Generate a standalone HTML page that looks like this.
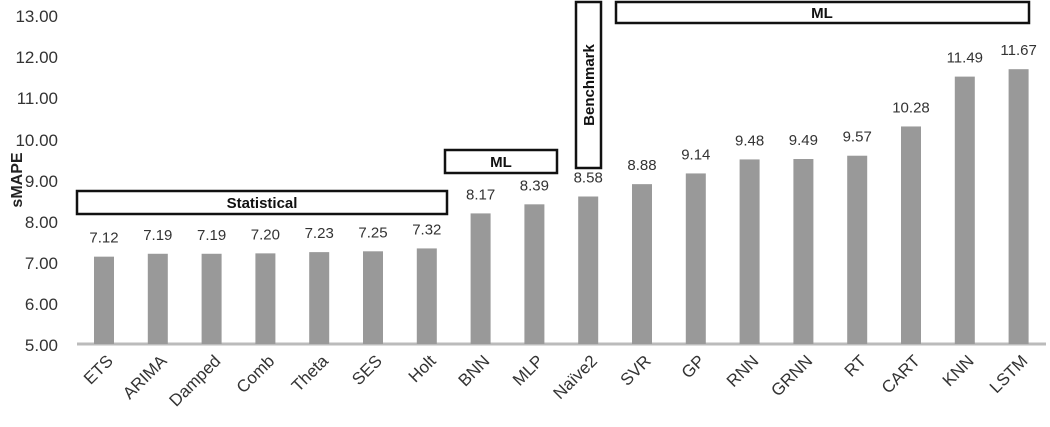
<!DOCTYPE html>
<html><head><style>body{margin:0;background:#fff}</style></head><body>
<svg width="1050" height="422" xmlns="http://www.w3.org/2000/svg" font-family="Liberation Sans, DejaVu Sans, sans-serif">
<rect width="1050" height="422" fill="#fff"/>
<g font-size="17" fill="#333" text-anchor="end">
<text x="58" y="22">13.00</text><text x="58" y="63">12.00</text><text x="58" y="104">11.00</text><text x="58" y="146">10.00</text><text x="58" y="187">9.00</text><text x="58" y="228">8.00</text><text x="58" y="269">7.00</text><text x="58" y="310">6.00</text><text x="58" y="351">5.00</text>
</g>
<text transform="translate(22,180) rotate(-90)" font-size="16" font-weight="bold" text-anchor="middle" fill="#222">sMAPE</text>
<line x1="77" y1="344" x2="1046" y2="344" stroke="#bbb" stroke-width="3"/>
<g id="bars" fill="#999"></g>
<g id="vals" font-size="15" fill="#333" text-anchor="middle"></g>
<g id="cats" font-size="17" fill="#333" text-anchor="end"></g>
<g fill="#fff" stroke="#111" stroke-width="2.5">
<rect x="77" y="191" width="370" height="23"/>
<rect x="445" y="150" width="112" height="23"/>
<rect x="576" y="2" width="25" height="166"/>
<rect x="616" y="2" width="413" height="21"/>
</g>
<g font-weight="bold" font-size="15" fill="#111" text-anchor="middle">
<text x="262" y="208">Statistical</text>
<text x="501" y="167">ML</text>
<text x="822" y="18">ML</text>
<text transform="translate(594,85) rotate(-90)">Benchmark</text>
</g>
<script>
var d=[["ETS",7.12],["ARIMA",7.19],["Damped",7.19],["Comb",7.20],["Theta",7.23],["SES",7.25],["Holt",7.32],["BNN",8.17],["MLP",8.39],["Naïve2",8.58],["SVR",8.88],["GP",9.14],["RNN",9.48],["GRNN",9.49],["RT",9.57],["CART",10.28],["KNN",11.49],["LSTM",11.67]];
var ns="http://www.w3.org/2000/svg";
function el(p,t,a,txt){var e=document.createElementNS(ns,t);for(var k in a)e.setAttribute(k,a[k]);if(txt)e.textContent=txt;document.getElementById(p).appendChild(e);}
d.forEach(function(v,i){var cx=104+i*53.8;var y=344-(v[1]-5)*41.2;
el("bars","rect",{x:cx-10,y:y,width:20,height:344-y});
el("vals","text",{x:cx,y:y-14},v[1].toFixed(2));
el("cats","text",{transform:"translate("+(cx+10)+",362) rotate(-45)"},v[0]);});
</script>
</svg>
</body></html>
